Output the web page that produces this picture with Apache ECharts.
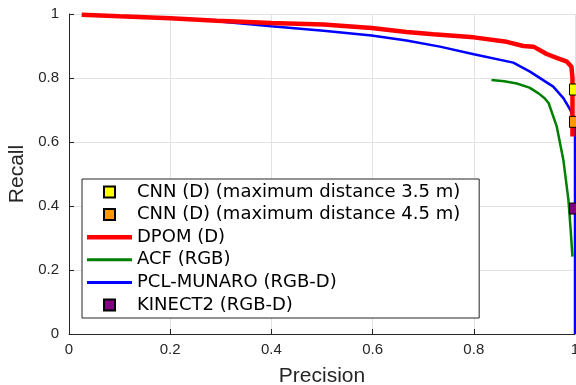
<!DOCTYPE html>
<html>
<head>
<meta charset="utf-8">
<script src="https://cdn.jsdelivr.net/npm/echarts@6/dist/echarts.min.js"></script>
<style>
  html, body { margin: 0; padding: 0; background: #fff; }
  #chart { width: 576px; height: 385px; }
</style>
</head>
<body>
<div id="chart"></div>
<script>
// precision / recall curves
const dpomP = [0.025, 0.1, 0.2, 0.292, 0.4, 0.503, 0.598, 0.667, 0.72, 0.8, 0.865, 0.898, 0.918, 0.944, 0.965, 0.984, 0.993, 0.995, 0.995];
const dpomR = [0.998, 0.993, 0.987, 0.979, 0.972, 0.967, 0.956, 0.944, 0.937, 0.927, 0.913, 0.9, 0.898, 0.875, 0.862, 0.851, 0.835, 0.8, 0.617];

const acfP = [0.835, 0.86, 0.885, 0.91, 0.928, 0.94, 0.948, 0.964, 0.977, 0.987, 0.991, 0.995];
const acfR = [0.794, 0.79, 0.783, 0.77, 0.752, 0.737, 0.721, 0.648, 0.544, 0.419, 0.335, 0.242];

const pclP = [0.292, 0.4, 0.503, 0.598, 0.667, 0.733, 0.8, 0.878, 0.911, 0.957, 0.977, 0.991, 0.998, 1.0, 1.0];
const pclR = [0.977, 0.962, 0.948, 0.933, 0.917, 0.898, 0.874, 0.848, 0.82, 0.773, 0.737, 0.7, 0.67, 0.64, 0.0];

// single operating points
const cnn35 = [1.0, 0.764];
const cnn45 = [1.0, 0.663];
const kinect2 = [1.0, 0.392];

const names = [
  'CNN (D) (maximum distance 3.5 m)',
  'CNN (D) (maximum distance 4.5 m)',
  'DPOM (D)',
  'ACF (RGB)',
  'PCL-MUNARO (RGB-D)',
  'KINECT2 (RGB-D)'
];

const zip = (xs, ys) => xs.map((x, i) => [x, ys[i]]);

const chart = echarts.init(document.getElementById('chart'));

const axisCommon = {
  type: 'value',
  min: 0,
  max: 1,
  interval: 0.2,
  axisLine: { show: true, lineStyle: { color: '#262626', width: 1 } },
  axisTick: { show: true, inside: true, length: 5, lineStyle: { color: '#262626' } },
  splitLine: { show: true, lineStyle: { color: '#e3e3e3', width: 1 } },
  axisLabel: {
    fontFamily: 'Liberation Sans, Arial, sans-serif',
    fontSize: 15,
    color: '#262626',
    formatter: (v) => String(+v.toFixed(1))
  },
  nameLocation: 'middle',
  nameTextStyle: {
    fontFamily: 'Liberation Sans, Arial, sans-serif',
    fontSize: 21,
    color: '#262626'
  }
};

const square = 'path://M0,0L10,0L10,10L0,10Z';
const bar = (h) => 'path://M0,0L45,0L45,' + h + 'L0,' + h + 'Z';

const option = {
  animation: false,
  backgroundColor: '#fff',
  grid: { left: 69, right: 1, top: 14, bottom: 51, containLabel: false, outerBoundsMode: 'none' },
  xAxis: Object.assign({}, axisCommon, {
    name: 'Precision',
    nameGap: 32,
    axisLabel: Object.assign({}, axisCommon.axisLabel, { margin: 8 })
  }),
  yAxis: Object.assign({}, axisCommon, {
    name: 'Recall',
    nameGap: 40,
    axisLabel: Object.assign({}, axisCommon.axisLabel, { margin: 10 })
  }),
  legend: {
    orient: 'vertical',
    left: 82,
    top: 179,
    padding: [3, 19, 3, 5],
    itemGap: 2.6,
    itemWidth: 45,
    itemHeight: 11,
    backgroundColor: '#fff',
    borderColor: '#262626',
    borderWidth: 1,
    selectedMode: false,
    textStyle: {
      fontFamily: 'DejaVu Sans, Verdana, sans-serif',
      fontSize: 18,
      lineHeight: 20,
      color: '#000'
    },
    data: [
      { name: names[0], icon: square },
      { name: names[1], icon: square },
      { name: names[2], icon: bar(4.5), itemStyle: { color: '#ff0000', borderWidth: 0 } },
      { name: names[3], icon: bar(3), itemStyle: { color: '#008000', borderWidth: 0 } },
      { name: names[4], icon: bar(3), itemStyle: { color: '#0000ff', borderWidth: 0 } },
      { name: names[5], icon: square }
    ]
  },
  series: [
    {
      name: names[4],
      type: 'line',
      data: zip(pclP, pclR),
      symbol: 'none',
      clip: false,
      color: '#0000ff',
      lineStyle: { color: '#0000ff', width: 2.5 },
      z: 2
    },
    {
      name: names[3],
      type: 'line',
      data: zip(acfP, acfR),
      symbol: 'none',
      clip: false,
      color: '#008000',
      lineStyle: { color: '#008000', width: 2.5 },
      z: 2
    },
    {
      name: names[2],
      type: 'line',
      data: zip(dpomP, dpomR),
      symbol: 'none',
      clip: false,
      color: '#ff0000',
      lineStyle: { color: '#ff0000', width: 4.5 },
      z: 3
    },
    {
      name: names[0],
      type: 'scatter',
      data: [cnn35],
      symbol: 'rect',
      symbolSize: 11,
      clip: false,
      itemStyle: { color: '#ffff00', borderColor: '#000', borderWidth: 1, opacity: 1 },
      z: 5
    },
    {
      name: names[1],
      type: 'scatter',
      data: [cnn45],
      symbol: 'rect',
      symbolSize: 11,
      clip: false,
      itemStyle: { color: '#ff9900', borderColor: '#000', borderWidth: 1, opacity: 1 },
      z: 5
    },
    {
      name: names[5],
      type: 'scatter',
      data: [kinect2],
      symbol: 'rect',
      symbolSize: 11,
      clip: false,
      itemStyle: { color: '#800080', borderColor: '#000', borderWidth: 1, opacity: 1 },
      z: 5
    }
  ]
};

chart.setOption(option);
window.addEventListener('resize', () => chart.resize());
</script>
</body>
</html>
